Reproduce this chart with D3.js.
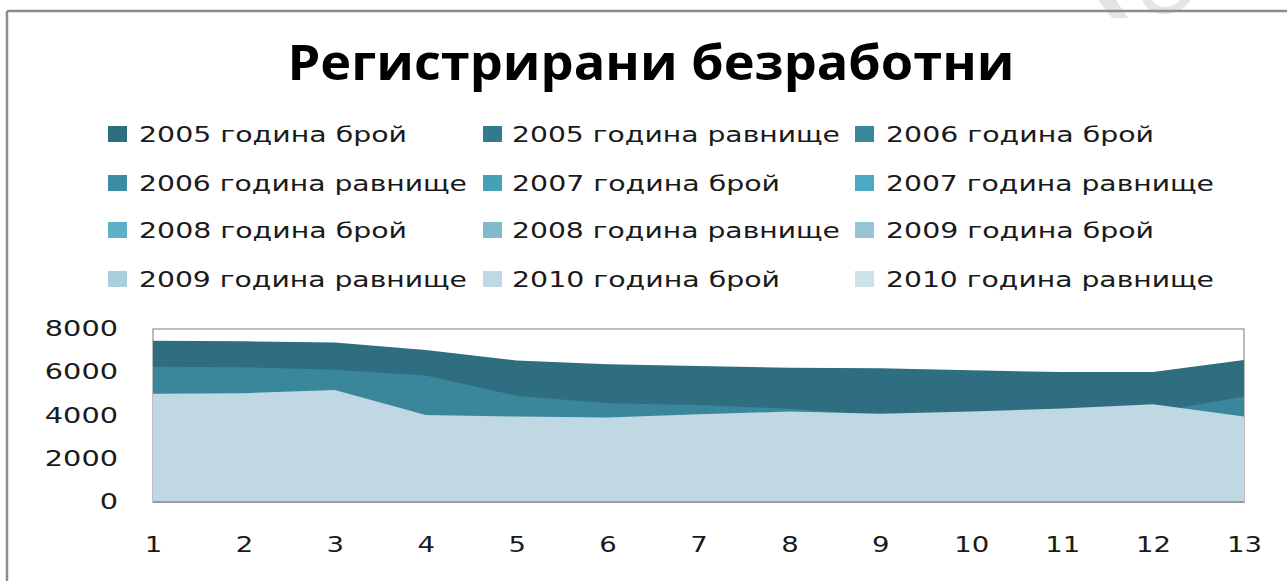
<!DOCTYPE html>
<html>
<head>
<meta charset="utf-8">
<script src="https://cdn.jsdelivr.net/npm/d3@7"></script>
<style>
  body { margin: 0; background: #fff; }
  svg { display: block; }
</style>
</head>
<body>
<div id="chart-area"></div>
<script>
// Данни (прочетени от графиката)
const months = [1, 2, 3, 4, 5, 6, 7, 8, 9, 10, 11, 12, 13];
const seriesNames = [
    "2005 година брой", "2005 година равнище", "2006 година брой",
    "2006 година равнище", "2007 година брой", "2007 година равнище",
    "2008 година брой", "2008 година равнище", "2009 година брой",
    "2009 година равнище", "2010 година брой", "2010 година равнище"
];
const count2005 = [7460, 7430, 7370, 7030, 6540, 6370, 6290, 6210, 6180, 6090, 6010, 6010, 6570];
const rate2005 = [12.1, 12.0, 11.9, 11.4, 10.6, 10.3, 10.2, 10.0, 10.0, 9.9, 9.7, 9.7, 10.6];
const count2006 = [6250, 6230, 6110, 5850, 4910, 4570, 4490, 4310, 4000, 4050, 4100, 4140, 4880];
const rate2006 = [10.1, 10.1, 9.9, 9.5, 7.9, 7.4, 7.3, 7.0, 6.5, 6.6, 6.6, 6.7, 7.9];
const count2007 = [4700, 4650, 4550, 3800, 3600, 3500, 3450, 3400, 3350, 3300, 3300, 3400, 3500];
const rate2007 = [7.6, 7.5, 7.4, 6.2, 5.8, 5.7, 5.6, 5.5, 5.4, 5.3, 5.3, 5.5, 5.7];
const count2008 = [3600, 3550, 3450, 3200, 3050, 2950, 2900, 2850, 2800, 2750, 2800, 2900, 3000];
const rate2008 = [5.8, 5.7, 5.6, 5.2, 4.9, 4.8, 4.7, 4.6, 4.5, 4.4, 4.5, 4.7, 4.9];
const count2009 = [3100, 3150, 3200, 3250, 3300, 3350, 3450, 3550, 3650, 3750, 3900, 4050, 3800];
const rate2009 = [5.0, 5.1, 5.2, 5.3, 5.3, 5.4, 5.6, 5.7, 5.9, 6.1, 6.3, 6.6, 6.2];
const count2010 = [5010, 5030, 5180, 4020, 3950, 3910, 4060, 4180, 4080, 4180, 4320, 4520, 3950];
const rate2010 = [8.1, 8.1, 8.4, 6.5, 6.4, 6.3, 6.6, 6.8, 6.6, 6.8, 7.0, 7.3, 6.4];
const yTicks = [0, 2000, 4000, 6000, 8000];

const seriesValues = [count2005, rate2005, count2006, rate2006, count2007, rate2007,
    count2008, rate2008, count2009, rate2009, count2010, rate2010];
const colors = ["#2e6e80", "#337a8e", "#3a869b", "#3b8da3", "#46a0b8", "#4ba9c4",
    "#5cb0c8", "#80bacc", "#96c5d5", "#a9cedc", "#bfd8e3", "#cce1e8"];

const width = 1287;
const height = 581;
const plot = { left: 153, right: 1244, top: 329, bottom: 502 };

const svg = d3.select("#chart-area")
    .append("svg")
    .attr("width", width)
    .attr("height", height)
    .style("font-family", "'DejaVu Sans', Verdana, sans-serif");

// Воден знак горе вдясно
svg.append("path")
    .attr("d", "M1098,0 L1112,18 L1128,18 L1116,0 Z")
    .attr("fill", "#e4e4e4");
svg.append("path")
    .attr("d", "M1142,0 Q1150,16 1168,14 Q1186,10 1190,0 L1180,0 Q1176,6 1166,7 Q1156,7 1152,0 Z")
    .attr("fill", "#e4e4e4");

// Рамка
svg.append("line")
    .attr("x1", 7).attr("x2", width).attr("y1", 11).attr("y2", 11)
    .attr("stroke", "#8c8c8c").attr("stroke-width", 2.5);
svg.append("line")
    .attr("x1", 7).attr("x2", 7).attr("y1", 11).attr("y2", height)
    .attr("stroke", "#8c8c8c").attr("stroke-width", 2.5);

// Заглавие
svg.append("text")
    .attr("x", 651)
    .attr("y", 80)
    .attr("text-anchor", "middle")
    .attr("font-family", "'Open Sans', sans-serif")
    .attr("font-weight", "bold")
    .attr("font-size", "49px")
    .attr("textLength", 727)
    .attr("lengthAdjust", "spacingAndGlyphs")
    .style("fill", "#000")
    .text("Регистрирани безработни");

// Легенда
const colX = [108, 483, 855];
const textX = [139, 512, 886];
const rowY = [134, 183, 230, 279];
const legend = svg.append("g");
seriesNames.forEach((name, i) => {
    const c = i % 3, r = Math.floor(i / 3);
    legend.append("rect")
        .attr("x", colX[c]).attr("y", rowY[r] - 8)
        .attr("width", 19).attr("height", 16)
        .attr("fill", colors[i]);
    legend.append("text")
        .attr("x", textX[c]).attr("y", rowY[r] + 8)
        .attr("font-size", "21px")
        .attr("textLength", name.includes("равнище") ? 328 : 268)
        .attr("lengthAdjust", "spacingAndGlyphs")
        .style("fill", "#1a1a1a")
        .text(name);
});

// Скали
const x = d3.scaleLinear().domain([1, 13]).range([plot.left, plot.right]);
const y = d3.scaleLinear().domain([0, 8000]).range([plot.bottom, plot.top]);

const g = svg.append("g");

// Рамка на графиката
g.append("rect")
    .attr("x", plot.left).attr("y", plot.top)
    .attr("width", plot.right - plot.left).attr("height", plot.bottom - plot.top)
    .attr("fill", "none").attr("stroke", "#a6a6a6").attr("stroke-width", 1.5);

// Площи (припокриващи се, в реда на сериите)
const area = d3.area()
    .x((d, i) => x(months[i]))
    .y0(y(0))
    .y1(d => y(d));

seriesValues.forEach((vals, i) => {
    g.append("path")
        .datum(vals)
        .attr("d", area)
        .attr("fill", colors[i]);
});

g.append("line")
    .attr("x1", plot.left).attr("x2", plot.right)
    .attr("y1", plot.bottom).attr("y2", plot.bottom)
    .attr("stroke", "#8c8c8c").attr("stroke-width", 1.5);

// Оси
const leftAxis = d3.axisLeft(y).tickValues(yTicks).tickFormat(d3.format("d")).tickSize(0).tickPadding(35);
g.append("g")
    .attr("class", "left axis")
    .attr("transform", `translate(${plot.left},0)`)
    .call(leftAxis)
    .call(s => s.select(".domain").remove())
    .selectAll("text")
    .attr("font-size", "21px")
    .attr("font-family", "'DejaVu Sans', sans-serif")
    .attr("fill", "#1a1a1a")
    .attr("textLength", d => String(d).length * 18.3)
    .attr("lengthAdjust", "spacingAndGlyphs");

const bottomAxis = d3.axisBottom(x).tickValues(months).tickSize(0).tickPadding(35);
g.append("g")
    .attr("class", "bottom axis")
    .attr("transform", `translate(0,${plot.bottom})`)
    .call(bottomAxis)
    .call(s => s.select(".domain").remove())
    .selectAll("text")
    .attr("font-size", "21px")
    .attr("font-family", "'DejaVu Sans', sans-serif")
    .attr("fill", "#1a1a1a")
    .attr("textLength", d => String(d).length * 17.5)
    .attr("lengthAdjust", "spacingAndGlyphs");
</script>
</body>
</html>
